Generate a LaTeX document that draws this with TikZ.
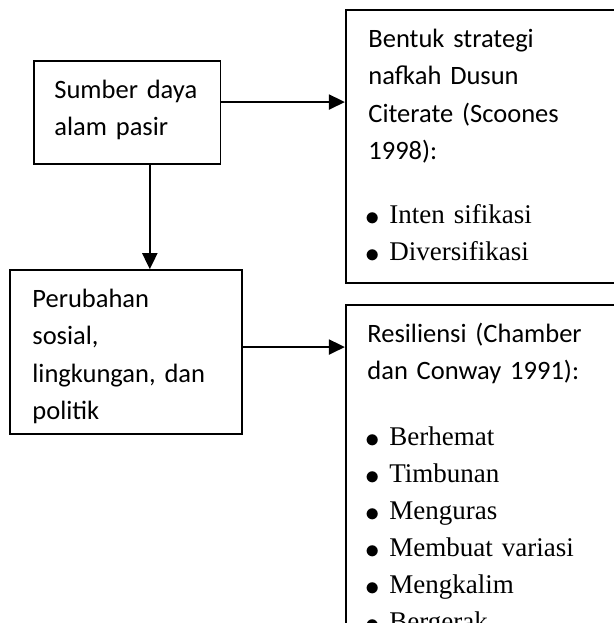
\documentclass[tikz,border=0pt]{standalone}
\usepackage{fontspec}
\newfontfamily\calfont{Carlito}
\newfontfamily\timesfont{Liberation Serif}
\usetikzlibrary{arrows.meta,calc,fit}
\tikzstyle{box}=[draw, line width=0.8pt, inner sep=0pt]
\tikzstyle{bigbox}=[box, line width=1.1pt]
\tikzstyle{txt}=[anchor=base west, inner sep=0pt, text width=130pt, align=left, font=\calfont\fontsize{13.25}{18.8}\selectfont]
\tikzstyle{lst}=[txt, font=\timesfont\fontsize{13.5}{18.5}\selectfont]
\tikzstyle{arr}=[-{Triangle[length=8pt,width=7.5pt]}, line width=1pt]
\newcommand{\itm}[1]{\makebox[11pt][l]{\hspace{-1pt}\raisebox{-1pt}{\fontsize{15}{15}\selectfont$\bullet$}}#1}

\begin{document}
\begin{tikzpicture}[x=0.5pt,y=-0.5pt]
\clip (0,0) rectangle (614,623);
% boxes
\node[box, fit={(34,61) (220.5,164)}] (sumber) {};
\node[box, fit={(10,270) (242,434)}] (perubahan) {};
\node[bigbox, fit={(346,10) (650,283)}] (bentuk) {};
\node[bigbox, fit={(346,305) (650,680)}] (resiliensi) {};
% texts
\node[txt] (sumbertxt) at (54,98) {Sumber daya\\alam pasir};
\node[txt] (perubahantxt) at (32,307) {Perubahan\\sosial,\\lingkungan, dan\\politik};
\node[txt] (bentuktxt) at (368,47) {Bentuk strategi\\nafkah Dusun\\Citerate (Scoones\\1998):};
\node[lst] (bentuklst) at (367,223) {\itm{Inten sifikasi}\\\itm{Diversifikasi}};
\node[txt] (resiliensitxt) at (367,342) {Resiliensi (Chamber\\dan Conway 1991):};
\node[lst] (resiliensilst) at (367,445) {\itm{Berhemat}\\\itm{Timbunan}\\\itm{Menguras}\\\itm{Membuat variasi}\\\itm{Mengkalim}\\\itm{Bergerak}};
% arrows
\draw[arr] ($(sumber.north east)!.4!(sumber.south east)$) coordinate (s1) -- (s1 -| bentuk.west);
\draw[arr] ($(sumber.south west)!.62!(sumber.south east)$) coordinate (s2) -- (s2 |- perubahan.north);
\draw[arr] ($(perubahan.north east)!.47!(perubahan.south east)$) coordinate (p1) -- (p1 -| resiliensi.west);
\end{tikzpicture}
\end{document}
